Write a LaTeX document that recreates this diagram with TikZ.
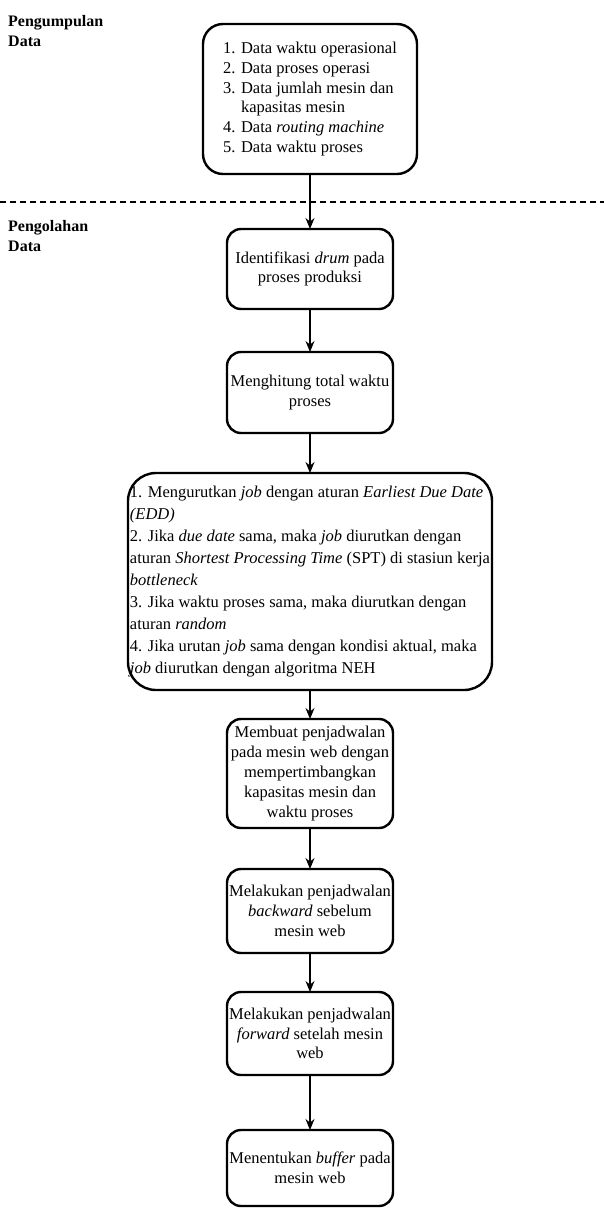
\documentclass[tikz,border=0pt]{standalone}
\usepackage{fontspec}
\setmainfont{Liberation Serif}
\usetikzlibrary{arrows.meta}

\begin{document}
\begin{tikzpicture}[x=1pt,y=-1pt,>={Stealth[length=11pt,width=9pt]}]
    \tikzset{
        block/.style={
            draw,line width=2.4pt,rounded corners=14pt,
            minimum width=166pt,inner sep=1pt,outer sep=0pt,align=center,
            font=\fontsize{16.5}{19.8}\selectfont
        },
        datablock/.style={block,minimum width=214pt,rounded corners=20pt},
        rulesblock/.style={block,minimum width=364pt,rounded corners=28pt,
            align=left,font=\fontsize{16.5}{22}\selectfont},
        phase/.style={anchor=north west,align=left,inner sep=0pt,
            font=\bfseries\fontsize{16}{20}\selectfont},
        flow/.style={->,line width=1.4pt},
        separator/.style={line width=1.4pt,dash pattern=on 6pt off 4pt}
    }
    \useasboundingbox (0,0) rectangle (604,1208);

    % fases
    \node[phase] (collect) at (8,15) {Pengumpulan\\Data};
    \node[phase] (process) at (8,220) {Pengolahan\\Data};
    \coordinate (sep-left) at (0,202);
    \coordinate (sep-right) at (604,202);
    \draw[separator] (sep-left) -- (sep-right);

    % pengumpulan data
    \node[datablock,minimum height=150pt] (data) at (310,99)
        {\begin{tabular}{@{}r@{ }l@{}}
         1. & Data waktu operasional\\
         2. & Data proses operasi\\
         3. & Data jumlah mesin dan\\
            & kapasitas mesin\\
         4. & Data \textit{routing machine}\\
         5. & Data waktu proses
         \end{tabular}};

    % pengolahan data
    \node[block,minimum height=80pt] (drum) at (310,269)
        {Identifikasi \textit{drum} pada\\proses produksi};
    \node[block,minimum height=81pt] (total) at (310,392.5)
        {Menghitung total waktu\\proses};
    \node[rulesblock,minimum height=217pt] (rules) at (310,581.5)
        {1. Mengurutkan \textit{job} dengan aturan \textit{Earliest Due Date}\\
         \textit{(EDD)}\\
         2. Jika \textit{due date} sama, maka \textit{job} diurutkan dengan\\
         aturan \textit{Shortest Processing Time} (SPT) di stasiun kerja\\
         \textit{bottleneck}\\
         3. Jika waktu proses sama, maka diurutkan dengan\\
         aturan \textit{random}\\
         4. Jika urutan \textit{job} sama dengan kondisi aktual, maka\\
         \textit{job} diurutkan dengan algoritma NEH};
    \node[block,minimum height=109pt] (web) at (310,773.5)
        {Membuat penjadwalan\\pada mesin web dengan\\mempertimbangkan\\
         kapasitas mesin dan\\waktu proses};
    \node[block,minimum height=84pt] (backward) at (310,911)
        {Melakukan penjadwalan\\\textit{backward} sebelum\\mesin web};
    \node[block,minimum height=83pt] (forward) at (310,1033.5)
        {Melakukan penjadwalan\\\textit{forward} setelah mesin\\web};
    \node[block,minimum height=76pt] (buffer) at (310,1168)
        {Menentukan \textit{buffer} pada\\mesin web};

    \draw[flow] (data.south) -- (drum.north);
    \draw[flow] (drum.south) -- (total.north);
    \draw[flow] (total.south) -- (rules.north);
    \draw[flow] (rules.south) -- (web.north);
    \draw[flow] (web.south) -- (backward.north);
    \draw[flow] (backward.south) -- (forward.north);
    \draw[flow] (forward.south) -- (buffer.north);
\end{tikzpicture}
\end{document}
